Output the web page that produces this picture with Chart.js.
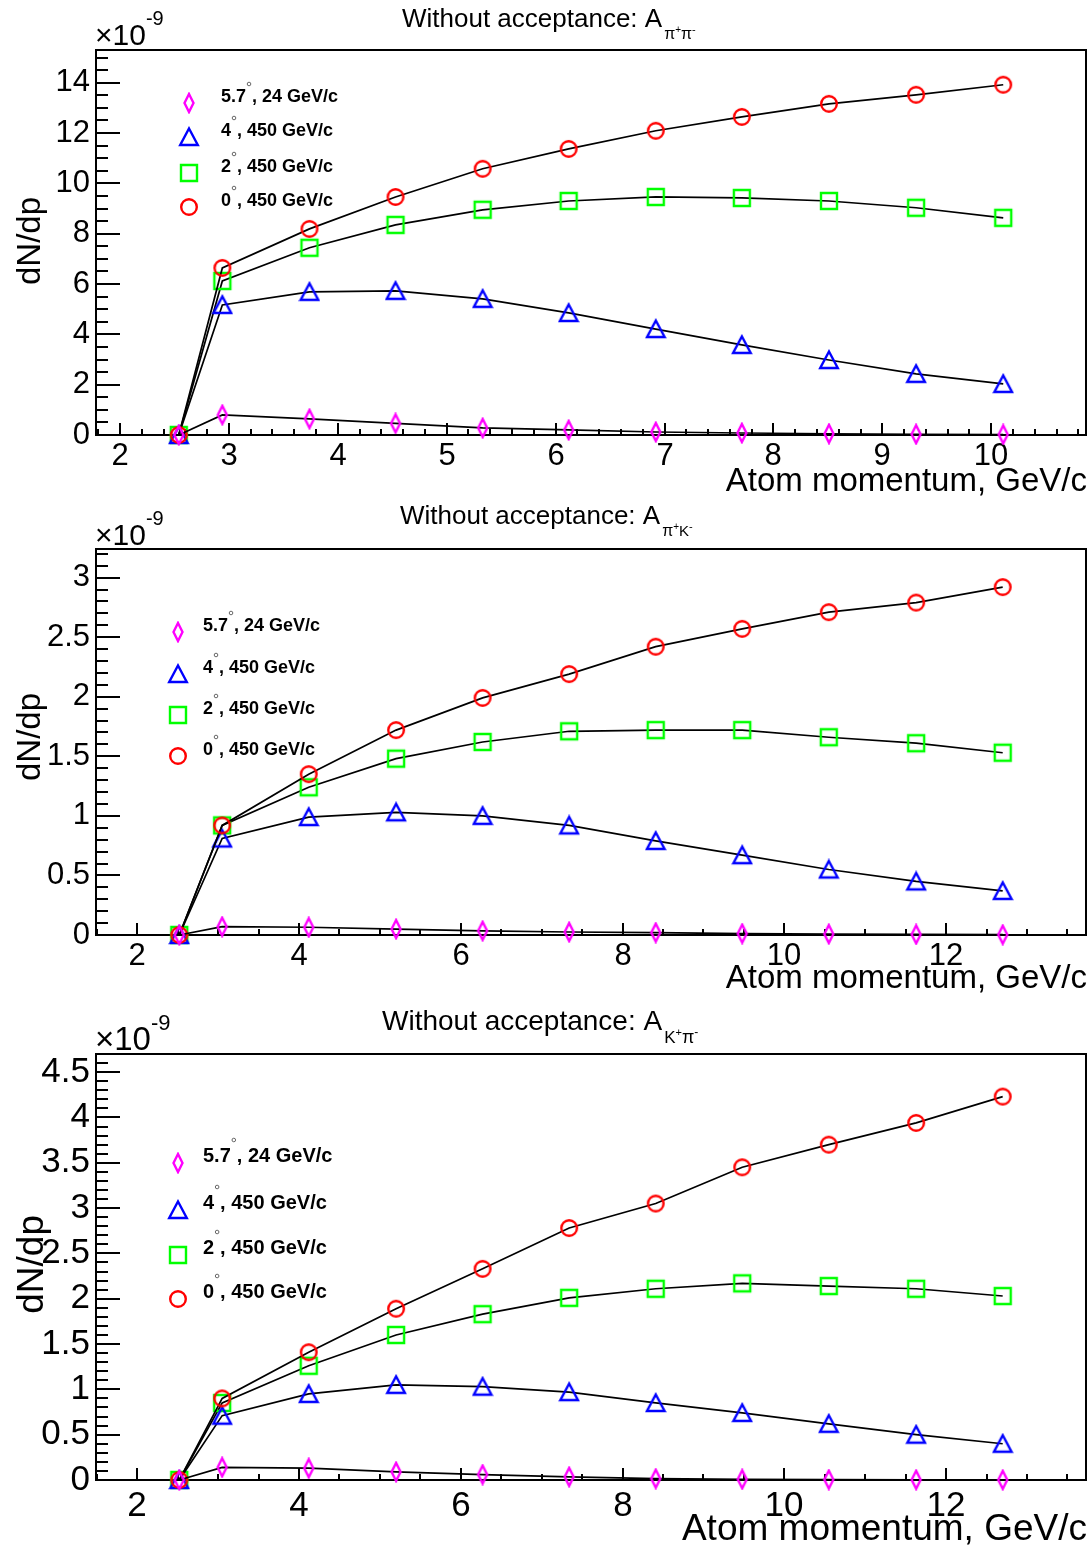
<!DOCTYPE html>
<html>
<head>
<meta charset="utf-8">
<script src="https://cdn.jsdelivr.net/npm/chart.js@4.4.1/dist/chart.umd.min.js"></script>
<style>
  body { margin: 0; background: #fff; }
  #wrap { position: relative; width: 1092px; height: 1551px; }
  canvas { position: absolute; left: 0; }
</style>
</head>
<body>
<div id="wrap">
  <canvas id="c1" width="1092" height="497" style="top:0px"></canvas>
  <canvas id="c2" width="1092" height="500" style="top:497px"></canvas>
  <canvas id="c3" width="1092" height="554" style="top:997px"></canvas>
</div>
<script>
// atom momentum (GeV/c) for each panel
const momPiPi = [2.54, 2.94, 3.74, 4.53, 5.33, 6.12, 6.92, 7.71, 8.51, 9.31, 10.11];
const momPiK  = [2.52, 3.05, 4.12, 5.20, 6.27, 7.34, 8.41, 9.48, 10.55, 11.63, 12.70];
const momKPi  = [2.52, 3.05, 4.12, 5.20, 6.27, 7.34, 8.41, 9.48, 10.55, 11.63, 12.70];

// dN/dp in units of 1e-9 -- A(pi+pi-)
const pipi0  = [0, 6.64, 8.19, 9.46, 10.58, 11.37, 12.09, 12.64, 13.16, 13.52, 13.92];
const pipi2  = [0, 6.12, 7.44, 8.35, 8.95, 9.30, 9.46, 9.42, 9.30, 9.03, 8.63];
const pipi4  = [0, 5.17, 5.69, 5.73, 5.41, 4.85, 4.21, 3.58, 2.98, 2.43, 2.03];
const pipi57 = [0, 0.80, 0.64, 0.46, 0.28, 0.20, 0.12, 0.08, 0.05, 0.03, 0.02];

// A(pi+K-)
const pik0  = [0, 0.92, 1.35, 1.72, 1.99, 2.19, 2.42, 2.57, 2.71, 2.79, 2.92];
const pik2  = [0, 0.92, 1.24, 1.48, 1.62, 1.71, 1.72, 1.72, 1.66, 1.61, 1.53];
const pik4  = [0, 0.81, 0.99, 1.03, 1.00, 0.92, 0.79, 0.67, 0.55, 0.45, 0.37];
const pik57 = [0, 0.07, 0.065, 0.05, 0.035, 0.025, 0.02, 0.012, 0.008, 0.005, 0.003];

// A(K+pi-)
const kpi0  = [0, 0.90, 1.41, 1.89, 2.33, 2.78, 3.05, 3.45, 3.70, 3.94, 4.23];
const kpi2  = [0, 0.85, 1.26, 1.60, 1.83, 2.01, 2.11, 2.17, 2.14, 2.11, 2.03];
const kpi4  = [0, 0.71, 0.95, 1.05, 1.03, 0.97, 0.85, 0.74, 0.62, 0.50, 0.40];
const kpi57 = [0, 0.14, 0.13, 0.09, 0.06, 0.035, 0.015, 0.008, 0.005, 0.003, 0.002];

const legendLabels = [["5.7", ", 24 GeV/c"], ["4", ", 450 GeV/c"], ["2", ", 450 GeV/c"], ["0", ", 450 GeV/c"]];

const FF = "'Liberation Sans', Arial, sans-serif";
Chart.defaults.font.family = FF;
Chart.defaults.color = "#000";

// ROOT-like open markers drawn once, used as point styles
function marker(kind, color) {
  const c = document.createElement("canvas");
  c.width = 22; c.height = 22;
  const g = c.getContext("2d");
  g.strokeStyle = color;
  g.lineWidth = 2.4;
  g.beginPath();
  if (kind === "circle") g.arc(11, 11, 7.8, 0, Math.PI * 2);
  else if (kind === "square") g.rect(3, 3, 16, 16);
  else if (kind === "triangle") { g.moveTo(11, 2.5); g.lineTo(19.8, 19); g.lineTo(2.2, 19); g.closePath(); }
  else { g.moveTo(11, 2); g.lineTo(15.5, 11); g.lineTo(11, 20); g.lineTo(6.5, 11); g.closePath(); }
  g.stroke();
  return c;
}
const mkDiamond = marker("diamond", "#ff00ff");
const mkTriangle = marker("triangle", "#0000ff");
const mkSquare = marker("square", "#00ff00");
const mkCircle = marker("circle", "#ff0000");
const legendMarkers = [mkDiamond, mkTriangle, mkSquare, mkCircle];

function isMajor(v, step) {
  const r = v / step;
  return Math.abs(r - Math.round(r)) < 1e-6;
}

// tick values at every multiple of step inside [min, max]
function stepTicks(min, max, step) {
  const out = [];
  for (let k = Math.ceil(min / step - 1e-9); k * step <= max + 1e-9; k++) {
    out.push({ value: Math.round(k * step * 1000) / 1000 });
  }
  return out;
}

// inward ticks, x labels and frame
const rootFrame = {
  id: "rootFrame",
  beforeDatasetsDraw(chart, args, o) {
    const { ctx, chartArea: a, scales: { x, y } } = chart;
    ctx.save();
    ctx.strokeStyle = "#000";
    ctx.fillStyle = "#000";
    ctx.lineWidth = 2;
    ctx.beginPath();
    ctx.font = o.labelSize + "px " + FF;
    ctx.textAlign = "center";
    ctx.textBaseline = "alphabetic";
    x.ticks.forEach(t => {
      const px = Math.round(x.getPixelForValue(t.value));
      const major = isMajor(t.value, o.xMajor);
      ctx.moveTo(px, a.bottom); ctx.lineTo(px, a.bottom - (major ? 12 : 6));
      if (major) ctx.fillText(String(Math.round(t.value)), px, a.bottom + o.labelDy);
    });
    y.ticks.forEach(t => {
      const py = Math.round(y.getPixelForValue(t.value));
      const len = isMajor(t.value, o.yMajor) ? 24 : 12;
      ctx.moveTo(a.left, py); ctx.lineTo(a.left + len, py);
    });
    ctx.stroke();
    ctx.strokeRect(a.left, a.top, a.right - a.left, a.bottom - a.top);
    ctx.restore();
  }
};

function drawRuns(ctx, x, base, runs) {
  runs.forEach(([txt, dy, size]) => {
    ctx.font = size + "px " + FF;
    ctx.fillText(txt, x, base + dy);
    x += ctx.measureText(txt).width;
  });
}

// titles, x10^-9, axis titles and legend
const rootText = {
  id: "rootText",
  afterDraw(chart, args, o) {
    const ctx = chart.ctx;
    ctx.save();
    ctx.fillStyle = "#000";
    ctx.textBaseline = "alphabetic";
    ctx.textAlign = "left";
    // title
    ctx.font = o.titleSize + "px " + FF;
    const main = "Without acceptance: A";
    ctx.fillText(main, o.titleX, o.titleY);
    const sx = o.titleX + ctx.measureText(main).width + 2;
    drawRuns(ctx, sx, o.titleY + o.subDy, o.sub);
    // exponent
    ctx.font = o.expSize + "px " + FF;
    ctx.fillText("\u00d710", 95, o.expY);
    const ew = ctx.measureText("\u00d710").width;
    ctx.font = Math.round(o.expSize * 0.68) + "px " + FF;
    ctx.fillText("-9", 95 + ew, o.expY - 20);
    // x title
    ctx.font = o.axSize + "px " + FF;
    ctx.textAlign = "right";
    ctx.fillText("Atom momentum, GeV/c", 1087, o.xTitleY);
    // y title
    ctx.save();
    ctx.translate(o.yTitleX, o.yTitleTop);
    ctx.rotate(-Math.PI / 2);
    ctx.fillText("dN/dp", 0, 0);
    ctx.restore();
    // legend
    ctx.textAlign = "left";
    o.legY.forEach((ly, i) => {
      const m = legendMarkers[i];
      ctx.drawImage(m, o.legMX - m.width / 2, ly - m.height / 2);
      ctx.font = "bold " + o.legSize + "px " + FF;
      const [num, rest] = legendLabels[i];
      const tb = ly - 1;
      ctx.fillText(num, o.legTX, tb);
      const w = ctx.measureText(num).width;
      ctx.strokeStyle = "#666";
      ctx.lineWidth = 1;
      ctx.beginPath();
      ctx.arc(o.legTX + w + 3, tb - o.degUp, 1.8, 0, Math.PI * 2);
      ctx.stroke();
      ctx.fillText(rest, o.legTX + w + 6, tb);
    });
    ctx.restore();
  }
};

function series(xs, ys, img) {
  return {
    data: xs.map((x, i) => ({ x: x, y: ys[i] })),
    borderColor: "#000",
    borderWidth: 1.7,
    pointStyle: img,
    pointRadius: 8,
    pointHoverRadius: 8,
    tension: 0,
    clip: false,
    fill: false
  };
}

function makePanel(id, p) {
  const H = document.getElementById(id).height;
  return new Chart(document.getElementById(id), {
    type: "line",
    data: {
      datasets: [
        series(p.xs, p.d57, mkDiamond),
        series(p.xs, p.d0, mkCircle),
        series(p.xs, p.d4, mkTriangle),
        series(p.xs, p.d2, mkSquare)
      ]
    },
    options: {
      responsive: false,
      animation: false,
      events: [],
      layout: { autoPadding: false, padding: { left: 0, top: p.top, right: 6, bottom: 0 } },
      plugins: {
        legend: { display: false },
        tooltip: { enabled: false },
        rootFrame: { xMajor: p.xMajor, yMajor: p.yMajor, labelSize: p.tickSize, labelDy: p.labelDy },
        rootText: p.text
      },
      scales: {
        x: {
          type: "linear",
          min: p.xMin, max: p.xMax,
          bounds: "data",
          grid: { display: false, drawTicks: false },
          border: { display: false },
          afterBuildTicks: s => { s.ticks = stepTicks(s.min, s.max, p.xMinor); },
          afterFit: s => { s.height = H - p.bottom; s.paddingLeft = 0; s.paddingRight = 0; },
          ticks: { display: false, autoSkip: false, maxRotation: 0 }
        },
        y: {
          type: "linear",
          min: 0, max: p.yMax,
          bounds: "data",
          grid: { display: false, drawTicks: false },
          border: { display: false },
          afterBuildTicks: s => { s.ticks = stepTicks(s.min, s.max, p.yMinor); },
          afterFit: s => { s.width = 96; s.paddingTop = 0; s.paddingBottom = 0; },
          ticks: {
            autoSkip: false,
            padding: 6,
            font: { size: p.tickSize },
            callback: v => isMajor(v, p.yMajor) ? String(Math.round(v * 10) / 10) : ""
          }
        }
      }
    },
    plugins: [rootFrame, rootText]
  });
}

makePanel("c1", {
  xs: momPiPi, d0: pipi0, d2: pipi2, d4: pipi4, d57: pipi57,
  xMin: 1.78, xMax: 10.87, xMajor: 1, xMinor: 0.2,
  yMax: 15.3, yMajor: 2, yMinor: 0.5,
  top: 50, bottom: 435, tickSize: 31, labelDy: 30,
  text: {
    titleSize: 26, titleX: 402, titleY: 27, subDy: 12,
    sub: [["\u03c0", 0, 16], ["+", -6, 10], ["\u03c0", 0, 16], ["-", -6, 11]],
    expSize: 30, expY: 45,
    axSize: 33, xTitleY: 491,
    yTitleX: 40, yTitleTop: 197,
    legMX: 189, legTX: 221, legSize: 18, degUp: 18,
    legY: [103, 137, 173, 207]
  }
});

makePanel("c2", {
  xs: momPiK, d0: pik0, d2: pik2, d4: pik4, d57: pik57,
  xMin: 1.49, xMax: 13.73, xMajor: 2, xMinor: 0.5,
  yMax: 3.24, yMajor: 0.5, yMinor: 0.1,
  top: 52, bottom: 438, tickSize: 31, labelDy: 30,
  text: {
    titleSize: 26, titleX: 400, titleY: 27, subDy: 12,
    sub: [["\u03c0", 0, 16], ["+", -6, 10], ["K", 0, 15], ["-", -6, 11]],
    expSize: 30, expY: 48,
    axSize: 33, xTitleY: 491,
    yTitleX: 40, yTitleTop: 196,
    legMX: 178, legTX: 203, legSize: 18, degUp: 18,
    legY: [135, 177, 218, 259]
  }
});

makePanel("c3", {
  xs: momKPi, d0: kpi0, d2: kpi2, d4: kpi4, d57: kpi57,
  xMin: 1.49, xMax: 13.73, xMajor: 2, xMinor: 0.5,
  yMax: 4.7, yMajor: 0.5, yMinor: 0.1,
  top: 57, bottom: 483, tickSize: 35, labelDy: 36,
  text: {
    titleSize: 28, titleX: 382, titleY: 33, subDy: 13,
    sub: [["K", 0, 17], ["+", -7, 11], ["\u03c0", 0, 18], ["-", -7, 12]],
    expSize: 33, expY: 53,
    axSize: 37, xTitleY: 543,
    yTitleX: 43, yTitleTop: 218,
    legMX: 178, legTX: 203, legSize: 20, degUp: 22,
    legY: [166, 213, 258, 302]
  }
});
</script>
</body>
</html>
